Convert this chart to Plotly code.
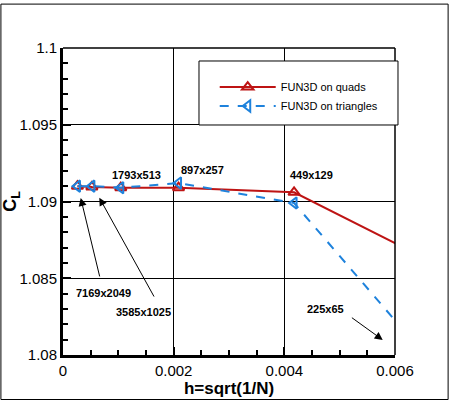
import plotly.graph_objects as go

# grid sizes and h = sqrt(1/N)
grids = ['7169x2049', '3585x1025', '1793x513', '897x257', '449x129', '225x65']
h = [0.000261, 0.000522, 0.001044, 0.002088, 0.004176, 0.008353]
cl_quads = [1.0910, 1.09095, 1.0909, 1.0909, 1.0906, 1.0830]
cl_tris = [1.0910, 1.0910, 1.0909, 1.0912, 1.0899, 1.0724]

x_ticks = [0, 0.002, 0.004, 0.006]
x_ticktext = ['0', '0.002', '0.004', '0.006']
y_ticks = [1.08, 1.085, 1.09, 1.095, 1.1]
y_ticktext = ['1.08', '1.085', '1.09', '1.095', '1.1']

red = 'rgb(190,20,20)'
blue = 'rgb(30,130,220)'
font = 'Liberation Sans, Arial, Helvetica, sans-serif'

fig = go.Figure()
fig.add_trace(go.Scatter(
    x=h, y=cl_quads, mode='lines+markers', name='FUN3D on quads',
    line=dict(color=red, width=2),
    marker=dict(symbol='triangle-up-open', size=10, color=red,
                line=dict(width=2, color=red))
))
fig.add_trace(go.Scatter(
    x=h, y=cl_tris, mode='lines+markers', name='FUN3D on triangles',
    line=dict(color=blue, width=2, dash='dash'),
    marker=dict(symbol='triangle-left-open', size=10, color=blue,
                line=dict(width=2, color=blue))
))

# grid labels (text) and arrows
labels = [
    ('7169x2049', 0.000723, 1.08406),
    ('3585x1025', 0.001446, 1.08282),
    ('1793x513', 0.001332, 1.09173),
    ('897x257', 0.00253, 1.09205),
    ('449x129', 0.004494, 1.09173),
    ('225x65', 0.004735, 1.0830),
]
for txt, lx, ly in labels:
    fig.add_annotation(x=lx, y=ly, text='<b>' + txt + '</b>', showarrow=False,
                       font=dict(family=font, size=11, color='black'),
                       xref='x', yref='y')

arrows = [
    (0.00032, 1.09023, 0.000669, 1.08502),
    (0.000656, 1.09025, 0.00166, 1.08371),
    (0.005778, 1.08098, 0.005194, 1.0825),
]
for hx, hy, tx, ty in arrows:
    fig.add_annotation(x=hx, y=hy, ax=tx, ay=ty, xref='x', yref='y',
                       axref='x', ayref='y', text='', showarrow=True,
                       arrowhead=2, arrowsize=1.6, arrowwidth=1,
                       arrowcolor='black')

shapes = [
    # figure frame
    dict(type='rect', xref='paper', yref='paper', x0=-0.187, x1=1.160,
         y0=-0.145, y1=1.143, line=dict(color='black', width=1)),
    # top and right borders of the plot
    dict(type='line', xref='paper', yref='paper', x0=0, x1=1, y0=1, y1=1,
         line=dict(color='black', width=1.5)),
    dict(type='line', xref='paper', yref='paper', x0=1, x1=1, y0=0, y1=1,
         line=dict(color='black', width=1.5)),
    # legend box
    dict(type='rect', xref='paper', yref='paper', x0=0.4096, x1=1.009,
         y0=0.7492, y1=0.9577, fillcolor='white', layer='above',
         line=dict(color='black', width=1)),
]

fig.update_layout(
    width=450, height=401,
    margin=dict(l=63, r=55, t=48, b=46),
    paper_bgcolor='white', plot_bgcolor='white',
    font=dict(family=font, color='black'),
    showlegend=True,
    legend=dict(x=0.457, y=0.92, xanchor='left', yanchor='top',
                bgcolor='rgba(0,0,0,0)', borderwidth=0,
                font=dict(family=font, size=11, color='black'),
                itemwidth=56, tracegroupgap=0),
    shapes=shapes,
    xaxis=dict(
        range=[0, 0.006], tickvals=x_ticks, ticktext=x_ticktext,
        automargin=False,
        showgrid=True, gridcolor='black', gridwidth=1,
        showline=True, linecolor='black', linewidth=3,
        ticks='inside', ticklen=8, tickwidth=2, tickcolor='black',
        minor=dict(dtick=0.0005, ticks='inside', ticklen=5, tickcolor='black',
                   showgrid=False),
        tickfont=dict(family=font, size=15, color='black'),
        title=dict(text='<b>h=sqrt(1/N)</b>', standoff=0,
                   font=dict(family=font, size=17, color='black')),
        zeroline=False,
    ),
    yaxis=dict(
        range=[1.08, 1.1], tickvals=y_ticks, ticktext=y_ticktext,
        automargin=False,
        showgrid=True, gridcolor='black', gridwidth=1,
        showline=True, linecolor='black', linewidth=3,
        ticks='inside', ticklen=8, tickwidth=2, tickcolor='black',
        minor=dict(dtick=0.001, ticks='inside', ticklen=5, tickcolor='black',
                   showgrid=False),
        tickfont=dict(family=font, size=15, color='black'),
        title=dict(text='<b>C<sub>L</sub></b>', standoff=2,
                   font=dict(family=font, size=18, color='black')),
        zeroline=False,
    ),
)

fig.write_html('out.html', config={'displayModeBar': False},
               post_script="document.body.style.margin='0px';")
